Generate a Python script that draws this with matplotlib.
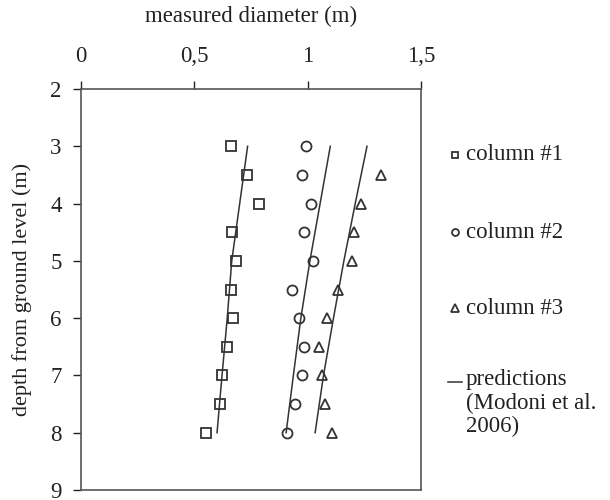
import matplotlib
matplotlib.use("Agg")
import matplotlib.pyplot as plt
from matplotlib.lines import Line2D
from matplotlib.ticker import FuncFormatter


# ==================================================
# DATA
# ==================================================

depth_c1 = [3, 3.5, 4, 4.5, 5, 5.5, 6, 6.5, 7, 7.5, 8]
diam_c1 = [0.662, 0.732, 0.784, 0.667, 0.684, 0.662, 0.670, 0.643, 0.621, 0.613, 0.550]

depth_c2 = [3, 3.5, 4, 4.5, 5, 5.5, 6, 6.5, 7, 7.5, 8]
diam_c2 = [0.992, 0.973, 1.013, 0.982, 1.022, 0.932, 0.963, 0.982, 0.973, 0.944, 0.910]

depth_c3 = [3.5, 4, 4.5, 5, 5.5, 6, 6.5, 7, 7.5, 8]
diam_c3 = [1.326, 1.236, 1.203, 1.196, 1.133, 1.086, 1.052, 1.062, 1.077, 1.107]

# model predictions (Modoni et al. 2006)
depth_pred = [3, 4, 5, 6, 7, 8]
pred_c1 = [0.735, 0.700, 0.665, 0.645, 0.622, 0.600]
pred_c2 = [1.100, 1.055, 1.010, 0.970, 0.937, 0.905]
pred_c3 = [1.262, 1.210, 1.160, 1.114, 1.070, 1.033]

x_ticks = [0, 0.5, 1, 1.5]
y_ticks = [2, 3, 4, 5, 6, 7, 8, 9]

legend_labels = [
    "column #1",
    "column #2",
    "column #3",
    "predictions\n(Modoni et al.\n2006)",
]


# ==================================================
# STYLE
# ==================================================

plt.rcParams["font.family"] = ["Liberation Serif", "DejaVu Serif"]
plt.rcParams["font.size"] = 16.5

INK = "#222222"
MARK = "#333333"

marker_kw = dict(
    linestyle="none",
    markerfacecolor="white",
    markeredgecolor=MARK,
    markeredgewidth=1.3,
)


# ==================================================
# FIGURE
# ==================================================

fig = plt.figure(figsize=(6.1, 5.0), dpi=100)
ax = fig.add_axes([0.133, 0.02, 0.557, 0.802])

ax.plot(diam_c1, depth_c1, marker="s", markersize=7.2, **marker_kw)
ax.plot(diam_c2, depth_c2, marker="o", markersize=7.2, **marker_kw)
ax.plot(diam_c3, depth_c3, marker="^", markersize=7.8, **marker_kw)

for pred in (pred_c1, pred_c2, pred_c3):
    ax.plot(pred, depth_pred, color=MARK, linewidth=1.1)

ax.set_xlim(0, 1.5)
ax.set_ylim(9, 2)

ax.xaxis.set_ticks_position("top")
ax.xaxis.set_label_position("top")
ax.set_xticks(x_ticks)
ax.set_yticks(y_ticks)
ax.xaxis.set_major_formatter(
    FuncFormatter(lambda v, _: f"{v:g}".replace(".", ","))
)

ax.tick_params(
    direction="out",
    length=6,
    width=1.0,
    color=INK,
    labelcolor=INK,
    labelsize=16.5,
    pad=8,
)
ax.tick_params(axis="x", pad=10)

for spine in ax.spines.values():
    spine.set_color("#555555")
    spine.set_linewidth(1.2)

ax.set_xlabel("measured diameter (m)", color=INK, labelpad=17)
ax.set_ylabel("depth from ground level (m)", color=INK, labelpad=13,
              fontsize=16)


# ==================================================
# LEGEND (drawn by hand, one row per entry)
# ==================================================

legend_keys = [
    dict(marker="s", markersize=5, **marker_kw),
    dict(marker="o", markersize=5, **marker_kw),
    dict(marker="^", markersize=5.5, **marker_kw),
]
row_y = [0.690, 0.536, 0.384, 0.236]
key_x = 0.746
text_x = 0.764

for key, y in zip(legend_keys, row_y):
    fig.add_artist(Line2D([key_x], [y], transform=fig.transFigure, **key))

fig.add_artist(
    Line2D([0.735, 0.757], [row_y[3], row_y[3]],
           transform=fig.transFigure, color=MARK, linewidth=1.1)
)

for label, y in zip(legend_labels[:3], row_y[:3]):
    fig.text(text_x, y, label, color=INK, va="center", ha="left")

# multi-line entry: first line sits level with its key
fig.text(text_x, row_y[3] + 0.026, legend_labels[3], color=INK,
         va="top", ha="left", linespacing=1.15)

fig.savefig("out.png", dpi=100)
